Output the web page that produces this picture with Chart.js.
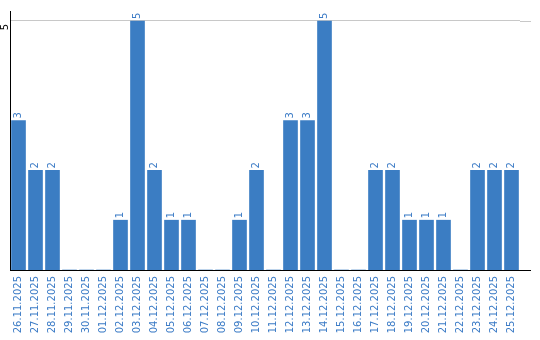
<!DOCTYPE html>
<html>
<head>
<meta charset="utf-8">
<script src="https://cdn.jsdelivr.net/npm/chart.js@4"></script>
<style>
  html, body { margin: 0; padding: 0; background: #fff; }
  #wrap { width: 540px; height: 340px; }
</style>
</head>
<body>
<div id="wrap"><canvas id="daysChart"></canvas></div>
<script>
// Chart data
const days = [
  '26.11.2025', '27.11.2025', '28.11.2025', '29.11.2025', '30.11.2025',
  '01.12.2025', '02.12.2025', '03.12.2025', '04.12.2025', '05.12.2025',
  '06.12.2025', '07.12.2025', '08.12.2025', '09.12.2025', '10.12.2025',
  '11.12.2025', '12.12.2025', '13.12.2025', '14.12.2025', '15.12.2025',
  '16.12.2025', '17.12.2025', '18.12.2025', '19.12.2025', '20.12.2025',
  '21.12.2025', '22.12.2025', '23.12.2025', '24.12.2025', '25.12.2025'
];
const counts = [3, 2, 2, 0, 0, 0, 1, 5, 2, 1, 1, 0, 0, 1, 2,
                0, 3, 3, 5, 0, 0, 2, 2, 1, 1, 1, 0, 2, 2, 2];
const yTicks = [5];

const barColor = '#3b7dc3';
const textColor = '#3b7bc6';

Chart.defaults.font.family = '"DejaVu Sans", Verdana, sans-serif';
Chart.defaults.font.size = 10;

// Value labels on top of the bars, rotated like the axis labels
const barValues = {
  id: 'barValues',
  afterDatasetsDraw(chart) {
    const {ctx} = chart;
    const meta = chart.getDatasetMeta(0);
    ctx.save();
    ctx.font = '10px "DejaVu Sans", Verdana, sans-serif';
    ctx.fillStyle = textColor;
    ctx.textAlign = 'left';
    ctx.textBaseline = 'middle';
    meta.data.forEach((bar, i) => {
      const v = counts[i];
      if (!v) return;
      ctx.save();
      ctx.translate(bar.x, bar.y - 2);
      ctx.rotate(-Math.PI / 2);
      ctx.fillText(String(v), 0, 0);
      ctx.restore();
    });
    ctx.restore();
  }
};

// The grid line and the x axis run a little past the last bar
const lineTails = {
  id: 'lineTails',
  afterDraw(chart) {
    const {ctx, chartArea, scales} = chart;
    ctx.save();
    ctx.lineWidth = 1;
    ctx.strokeStyle = '#c8c8c8';
    yTicks.forEach(t => {
      const y = Math.round(scales.y.getPixelForValue(t)) + 0.5;
      ctx.beginPath();
      ctx.moveTo(chartArea.right, y);
      ctx.lineTo(chartArea.right + 11, y);
      ctx.stroke();
    });
    ctx.strokeStyle = '#000';
    const y0 = Math.round(scales.y.getPixelForValue(0)) + 0.5;
    ctx.beginPath();
    ctx.moveTo(chartArea.right, y0);
    ctx.lineTo(chartArea.right + 11, y0);
    ctx.stroke();
    ctx.restore();
  }
};

new Chart(document.getElementById('daysChart'), {
  type: 'bar',
  data: {
    labels: days,
    datasets: [{
      data: counts,
      backgroundColor: barColor,
      barThickness: 14
    }]
  },
  options: {
    responsive: true,
    maintainAspectRatio: false,
    animation: false,
    layout: {padding: {top: 10, right: 20, left: 0, bottom: 0}},
    plugins: {legend: {display: false}, tooltip: {enabled: false}},
    scales: {
      x: {
        grid: {display: false, drawTicks: false},
        border: {display: true, color: '#000', width: 1},
        ticks: {
          color: textColor,
          minRotation: 90,
          maxRotation: 90,
          autoSkip: false,
          padding: 6
        },
        afterFit(scale) { scale.height = 70; }
      },
      y: {
        min: 0,
        max: 5.2,
        grid: {color: '#c8c8c8', drawTicks: false},
        border: {display: true, color: '#000', width: 1},
        ticks: {
          color: '#000',
          minRotation: 90,
          maxRotation: 90,
          padding: 5,
          labelOffset: 3
        },
        afterBuildTicks(scale) { scale.ticks = yTicks.map(v => ({value: v})); },
        afterFit(scale) { scale.width = 10; }
      }
    }
  },
  plugins: [barValues, lineTails]
});
</script>
</body>
</html>
